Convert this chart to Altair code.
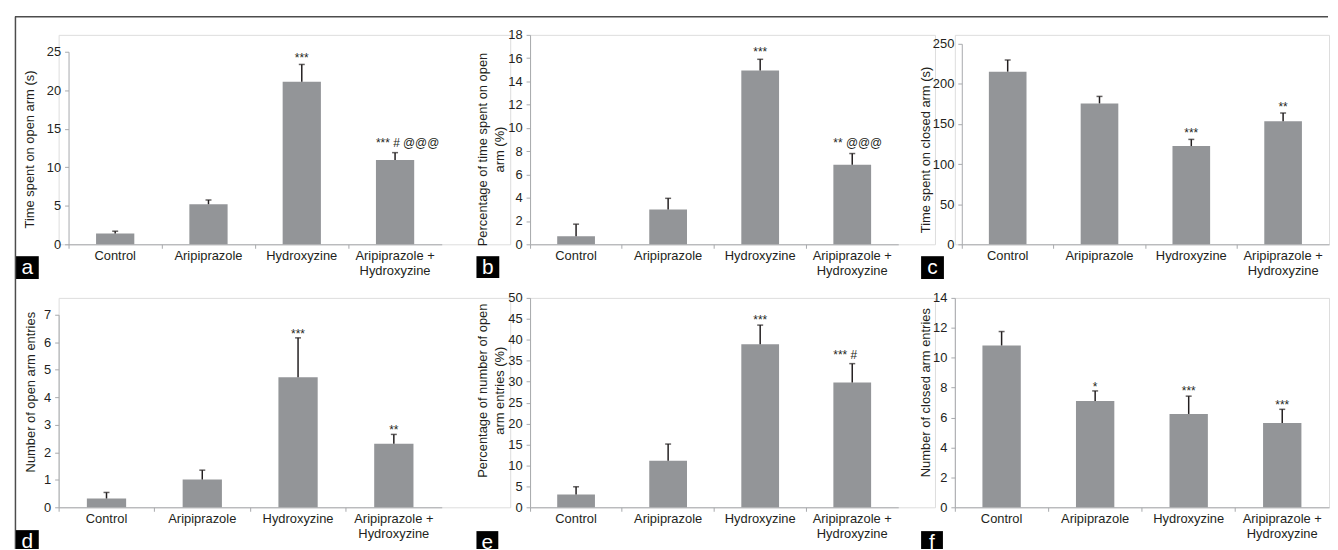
import altair as alt
import pandas as pd

categories = ["Control", "Aripiprazole", "Hydroxyzine", "Aripiprazole + Hydroxyzine"]

# panel a: time spent on open arm (s)
a_mean = [1.4, 5.2, 21.1, 10.95]
a_err = [1.7, 5.75, 23.35, 11.9]
a_sig = ["", "", "***", "*** # @@@"]
a_sig_y = [0, 0, 23.7, 12.6]
a_ticks = [0, 5, 10, 15, 20, 25]

# panel b: percentage of time spent on open arm
b_mean = [0.68, 2.99, 14.93, 6.83]
b_err = [1.73, 3.95, 15.9, 7.8]
b_sig = ["", "", "***", "** @@@"]
b_sig_y = [0, 0, 16.15, 8.4]
b_ticks = [0, 2, 4, 6, 8, 10, 12, 14, 16, 18]

# panel c: time spent on closed arm (s)
c_mean = [215.3, 175.7, 122.5, 153.5]
c_err = [229.8, 184.4, 130.8, 163.7]
c_sig = ["", "", "***", "**"]
c_sig_y = [0, 0, 133.3, 166.2]
c_ticks = [0, 50, 100, 150, 200, 250]

# panel d: number of open arm entries
d_mean = [0.32, 1.01, 4.73, 2.31]
d_err = [0.54, 1.35, 6.16, 2.65]
d_sig = ["", "", "***", "**"]
d_sig_y = [0, 0, 6.16, 2.65]
d_ticks = [0, 1, 2, 3, 4, 5, 6, 7]

# panel e: percentage of number of open arm entries
e_mean = [3.08, 11.1, 38.9, 29.8]
e_err = [4.9, 15.1, 43.5, 34.3]
e_sig = ["", "", "***", "*** #"]
e_sig_y = [0, 0, 43.7, 35.4]
e_ticks = [0, 5, 10, 15, 20, 25, 30, 35, 40, 45, 50]

# panel f: number of closed arm entries
f_mean = [10.82, 7.1, 6.24, 5.64]
f_err = [11.75, 7.78, 7.43, 6.55]
f_sig = ["", "*", "***", "***"]
f_sig_y = [0, 7.8, 7.48, 6.59]
f_ticks = [0, 2, 4, 6, 8, 10, 12, 14]

FONT = "Liberation Sans"
BAR = "#939598"
INK = "#231f20"
AXIS = "#a7a9ac"
FRAME = "#4d4d4d"

LABEL_EXPR = ("datum.label == 'Aripiprazole + Hydroxyzine' ? "
              "['Aripiprazole +', 'Hydroxyzine'] : datum.label")


def panel(mean, err, sig, sig_y, ticks, title, width, height, xr, yr, yoff,
          title_x, title_y, letter, box, frame=None):
    kind = ["" if s == "" else ("l" if ("#" in s or "@" in s) else "c") for s in sig]
    df = pd.DataFrame({"cat": categories, "mean": mean, "err": err,
                       "sig": sig, "sig_y": sig_y, "kind": kind})
    xscale = alt.Scale(domain=categories, range=list(xr), paddingInner=0, paddingOuter=0)
    xaxis = alt.Axis(title=None, labelAngle=0, bandPosition=0,
                     tickSize=4, tickColor=AXIS, domainColor=AXIS, domainWidth=1,
                     labelFont=FONT, labelFontSize=13, labelColor=INK, labelPadding=1,
                     labelLineHeight=15, labelExpr=LABEL_EXPR, labelOverlap=False,
                     labelLimit=300, labelBaseline="top", grid=False)
    yscale = alt.Scale(domain=[0, ticks[-1]], range=list(yr), nice=False, zero=True)
    yaxis = alt.Axis(title=title, values=ticks, tickSize=4, tickColor=AXIS,
                     domainColor=AXIS, labelFont=FONT, labelFontSize=13, labelColor=INK,
                     labelPadding=4, grid=False, offset=yoff,
                     titleFont=FONT, titleFontSize=13, titleFontWeight="normal",
                     titleColor=INK, titleX=title_x, titleY=title_y,
                     titleBaseline="middle", titleAlign="center", titleLineHeight=17,
                     titleAngle=270)

    def X(bp=None):
        if bp is None:
            return alt.X("cat:N", scale=xscale, axis=xaxis)
        return alt.X("cat:N", scale=xscale, axis=xaxis, bandPosition=bp)

    def Y(field):
        return alt.Y(field + ":Q", scale=yscale, axis=yaxis)

    base = alt.Chart(df)
    bars = base.mark_bar(color=BAR, width=alt.RelativeBandSize(0.41)).encode(
        x=X(), y=Y("mean"))
    ebar = base.mark_rule(color=INK, strokeWidth=1.5).encode(
        x=X(), y=Y("mean"), y2="err:Q")
    cap = base.mark_tick(color=INK, size=6, thickness=1.5, orient="horizontal").encode(
        x=X(), y=Y("err"))
    txt_c = base.transform_filter(alt.datum.kind == "c").mark_text(
        font=FONT, fontSize=12, color=INK, align="center", baseline="alphabetic").encode(
        x=X(), y=Y("sig_y"), text="sig:N")
    txt_l = base.transform_filter(alt.datum.kind == "l").mark_text(
        font=FONT, fontSize=12, color=INK, align="left", baseline="alphabetic").encode(
        x=X(0.295), y=Y("sig_y"), text="sig:N")

    one = alt.Chart(pd.DataFrame({"k": [0]}))
    bx0, bx1, by0, by1 = box
    rect = one.mark_rect(color="#000000").encode(
        x=alt.value(bx0), x2=alt.value(bx1), y=alt.value(by0), y2=alt.value(by1))
    lab = one.mark_text(color="#ffffff", font=FONT, fontSize=21, align="center",
                        baseline="alphabetic").encode(
        x=alt.value((bx0 + bx1) / 2), y=alt.value(by0 + 18), text=alt.value(letter))

    layers = [bars, ebar, cap, txt_c, txt_l, rect, lab]
    if frame is not None:
        fx0, fx1, fy0, fy1 = frame
        top = one.mark_rule(color=FRAME, strokeWidth=1.5).encode(
            x=alt.value(fx0), x2=alt.value(fx1), y=alt.value(fy0))
        left = one.mark_rule(color=FRAME, strokeWidth=1.5).encode(
            x=alt.value(fx0 + 0.5), y=alt.value(fy0), y2=alt.value(fy1))
        layers += [top, left]
    return alt.layer(*layers).properties(width=width, height=height)


H = 211
pa = panel(a_mean, a_err, a_sig, a_sig_y, a_ticks, "Time spent on open arm (s)",
           455, H, (10, 386), (211, 17), -10, -39.5, 115, "a", (-43, -20, 223, 246),
           frame=(-44, 1279, -18.25, 518))
pb = panel(b_mean, b_err, b_sig, b_sig_y, b_ticks,
           ["Percentage of time spent on open", "arm (%)"],
           408, H, (0, 371), (211, 0), 0, -48, 115, "b", (-54, -31, 223, 245))
pc = panel(c_mean, c_err, c_sig, c_sig_y, c_ticks, "Time spent on closed arm (s)",
           377, H, (7, 377), (211, 9), -7, -37, 115.5, "c", (-34, -11, 223, 246))
pd_ = panel(d_mean, d_err, d_sig, d_sig_y, d_ticks, "Number of open arm entries",
            455, H, (0, 386), (211, 17), 0, -28.5, 94.5, "d", (-43, -20, 234, 253))
pe = panel(e_mean, e_err, e_sig, e_sig_y, e_ticks,
           ["Percentage of number of open", "arm entries (%)"],
           408, H, (0, 371), (211, 0), 0, -48, 93, "e", (-54, -32, 235, 253))
pf = panel(f_mean, f_err, f_sig, f_sig_y, f_ticks, "Number of closed arm entries",
           377, H, (0, 377), (211, 0), 0, -30, 95, "f", (-34, -12, 235, 253))

chart = alt.concat(pa, pb, pc, pd_, pe, pf, columns=3,
                   spacing={"row": 54, "column": 20}, bounds="flush", align="each")
chart = chart.configure_view(stroke=None).configure(font=FONT).properties(
    padding={"left": 5, "top": 5, "right": 0, "bottom": 0},
    background="#ffffff")

chart.save("out.html", embed_options={"renderer": "svg", "actions": False})
